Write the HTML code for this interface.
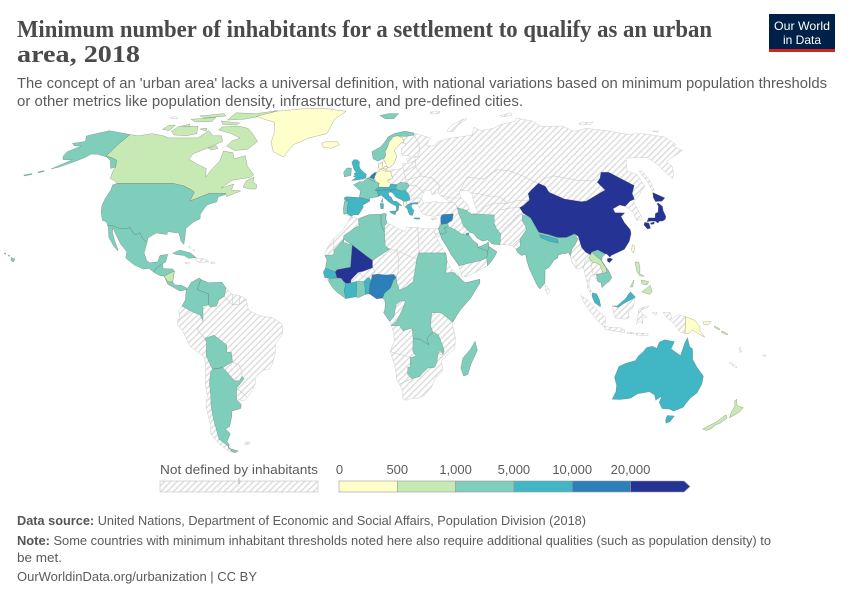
<!DOCTYPE html>
<html>
<head>
<meta charset="utf-8">
<style>
html,body{margin:0;padding:0;background:#fff;}
svg{display:block;}
.h{fill:url(#hp);stroke:#cdcdcd;stroke-width:.5;stroke-linejoin:round}
.y,.g,.t,.c,.b,.n{stroke:#5a5a5a;stroke-opacity:.55;stroke-width:.45;stroke-linejoin:round}
.y{fill:#ffffcc}.g{fill:#c7e9b4}.t{fill:#7fcdbb}.c{fill:#41b6c4}.b{fill:#2c7fb8}.n{fill:#253494}
.w{fill:#fff;stroke:#cdcdcd;stroke-width:.5}
.bl{fill:none;stroke:#cbcbcb;stroke-width:.6;stroke-linejoin:round}
.sans{font-family:"Liberation Sans",Arial,sans-serif}
</style>
</head>
<body>
<svg width="850" height="600" viewBox="0 0 850 600" xmlns="http://www.w3.org/2000/svg">
<defs>
<pattern id="hp" patternUnits="userSpaceOnUse" width="4.5" height="4.5" patternTransform="rotate(45)">
<rect width="4.5" height="4.5" fill="#fff"/>
<line x1="2.25" y1="0" x2="2.25" y2="4.5" stroke="#d9d9d9" stroke-width="1.3"/>
</pattern>
</defs>
<rect width="850" height="600" fill="#fff"/>

<!-- Title -->
<text x="17" y="37" font-family="'Liberation Serif',serif" font-weight="bold" font-size="24" fill="#4a4a4a" textLength="695" lengthAdjust="spacingAndGlyphs">Minimum number of inhabitants for a settlement to qualify as an urban</text>
<text x="17" y="62" font-family="'Liberation Serif',serif" font-weight="bold" font-size="24" fill="#4a4a4a" textLength="123" lengthAdjust="spacingAndGlyphs">area, 2018</text>
<text class="sans" x="17" y="88" font-size="14.5" fill="#5b5b5b" textLength="810" lengthAdjust="spacingAndGlyphs">The concept of an 'urban area' lacks a universal definition, with national variations based on minimum population thresholds</text>
<text class="sans" x="17" y="106" font-size="14.5" fill="#5b5b5b" textLength="506" lengthAdjust="spacingAndGlyphs">or other metrics like population density, infrastructure, and pre-defined cities.</text>

<!-- Logo -->
<rect x="769" y="14" width="66" height="35" fill="#002147"/>
<rect x="769" y="49" width="66" height="3" fill="#ce261e"/>
<text class="sans" x="802" y="30" font-size="12" fill="#fff" text-anchor="middle" textLength="56" lengthAdjust="spacingAndGlyphs">Our World</text>
<text class="sans" x="802" y="44" font-size="12" fill="#fff" text-anchor="middle" textLength="38" lengthAdjust="spacingAndGlyphs">in Data</text>

<!-- ===== MAP ===== -->
<!-- Hatched bases -->
<path class="h" d="M351.3,216.3 L343.7,214.1 L343.4,208.8 L344.6,201.1 L344,198 L346.5,196.8 L359.3,197.6 L360.6,191 L353.6,184.9 L359.8,181.6 L363.4,182 L366.6,178.4 L371.8,174.7 L376.5,172.2 L378.6,167.3 L378.4,164.1 L382.6,161.9 L382.5,164.8 L383.1,168.5 L388,170.2 L398.4,169.2 L403,167.3 L402.5,163.6 L408.1,163.6 L406.4,158.8 L417.9,156.4 L408.7,156 L402.1,155.2 L401.2,149.4 L406.3,143.6 L401.1,142.9 L394.2,150.5 L396.8,156.4 L394,163.6 L389.7,167.3 L386.7,164.8 L382.4,158.8 L377.9,161.2 L373.2,158.8 L372,151.7 L380.6,147 L385.3,141.4 L388.1,136.9 L394.3,133.6 L404.9,131.2 L413.8,133 L430.4,137.9 L426,145.9 L434.7,145.9 L438.4,141.4 L452.3,137.9 L460.1,136.9 L472.2,135.1 L473.9,127.3 L480.9,130.5 L488.2,129.4 L493.7,128.3 L499,125.2 L514.8,121.2 L516.6,118.1 L533,121.2 L540.7,126.2 L562.8,126.2 L574.3,131.5 L586.2,128.3 L605.3,130.5 L627.3,134.3 L642.8,133.6 L664.3,136.9 L676,144.7 L672.6,145.9 L682.5,150.5 L673.9,156.4 L666.5,161.2 L672,166.1 L673.7,174.7 L672.3,178.4 L656.3,163.6 L647.7,157.6 L626,158.1 L627,171 L636.8,174.7 L644.8,185.9 L636.9,198.4 L633.3,201.1 L641.3,216.5 L641.4,219 L636.6,220.5 L633.1,212.7 L627.4,207.6 L625.3,206.3 L619.7,205 L613,208.8 L615,212.7 L624.7,213 L621,216.5 L624.4,222.6 L630.2,229.6 L631,233.5 L629.3,241.3 L624.4,249.3 L618.2,252.2 L611.1,255.5 L610,257.2 L606.6,253.9 L602.3,256.8 L601.4,260.7 L603.6,264.6 L608.4,270.3 L611.8,277.6 L609.1,281.5 L606.3,283.3 L602,287.7 L601.2,282.8 L597.8,281.5 L595,277.6 L593,275.1 L590.8,275.3 L588.9,282.8 L589.2,286.7 L591.6,291.9 L596.7,294.4 L599.3,299.6 L600.7,306.1 L600,306.6 L594.8,302.7 L592.4,297 L587.5,288 L587.4,284.1 L584.9,273.7 L583.5,267.2 L578,269 L576.1,268.5 L575.9,260.7 L570.4,256 L568.5,252.2 L565.9,253.5 L563,253.5 L558.5,254.8 L557.5,258.1 L554.2,259.9 L549.2,267.2 L545,269.8 L545,275.7 L544.8,283.3 L539.9,289 L536.7,284.4 L533,276.5 L529.3,268.5 L526.9,260.7 L525.8,254.2 L521.3,255.5 L517.5,252.2 L516,249.1 L512.3,245.7 L505.5,244.7 L500,244.7 L492,243.9 L487.8,239.8 L482.6,241.1 L476.9,237.9 L473.7,233.5 L469.6,232.2 L468.5,234.7 L472.7,240.1 L477.6,243.9 L477.9,247.3 L486.1,243.9 L488.3,241.6 L488.9,246.4 L496.9,251.7 L494.5,256.8 L491.4,261.2 L487.4,265.9 L480.8,269.3 L473.1,273.7 L465.5,276.8 L462.1,277.1 L459.8,269.8 L459.1,265.9 L450.9,254.2 L446.6,246.4 L441.6,238.7 L440,233.5 L438.3,228.8 L440,223.1 L440.7,218 L440.6,214.8 L436,216.1 L431.6,216.1 L428.5,215.3 L423,214.6 L420.4,210.2 L418.9,206.3 L418.1,204.8 L413.4,204 L411.2,204.8 L411.5,207.6 L413.5,211.7 L412.6,215.3 L411.4,215.3 L409.6,214.6 L408.3,212 L407.5,208.8 L405.7,207.6 L403.9,205.5 L403.7,201.6 L402,200 L396.1,197.3 L392.7,193 L391.1,192 L388.2,192.5 L388.9,196 L391,197 L393.3,201.1 L396.8,201.4 L401.9,205.8 L398.9,205 L398.3,210.4 L396.5,211.5 L396.3,206.3 L392.8,204.3 L390.4,203 L388.5,201.6 L384.8,198.4 L381.3,195.1 L378.5,196.6 L372.3,197.6 L369.4,198.4 L369.7,201.1 L365.1,203.7 L362.4,205.6 L363.4,206.9 L361.5,210 L358.5,214.8 L353.6,214.8 Z"/>
<path class="h" d="M350.5,217.1 L348.3,221.8 L341.9,230.9 L333.8,238.2 L327.3,247.8 L324.8,255.5 L327,259.4 L325.6,268.2 L323.3,272 L324.8,277.6 L328.8,281.5 L332.9,287.9 L336.7,291.9 L345.8,298.6 L353.8,296.5 L358.4,297.6 L365.3,294.4 L368.7,293.6 L370.8,293.4 L376.7,298.8 L382.5,298 L384.8,300.1 L385.4,304 L384.8,310 L383.6,312.6 L389.8,321.5 L391.2,325.6 L393.9,333.3 L394.3,341.1 L390.2,351.5 L395.5,368.3 L396.7,380 L399.4,384.1 L402.8,391.7 L402.8,398.7 L406.3,400.3 L411.8,398.2 L418.5,398.2 L423.9,395.6 L431.2,387.5 L435.9,377.4 L442.2,372.2 L442.2,365.8 L441.3,361.4 L446.6,355.4 L454.8,348.9 L455.3,337.2 L453,328.1 L452.7,322.2 L453.9,320.4 L456.9,315.2 L460.3,310 L470.5,298.3 L476,289.3 L479.9,283 L479.7,279.3 L465.5,282.8 L461.6,279.8 L457.2,273.6 L451.3,269 L447,261.2 L446,254.2 L442.2,247.8 L437.1,238.7 L434.4,232.2 L438.6,237.4 L439.9,233.5 L438.3,228.8 L434,228.8 L428.5,229 L417.7,227.8 L406.7,227 L404.7,231.4 L397,228.3 L391.4,224.7 L386.8,223.1 L385.6,218 L386.5,214.1 L384,213.4 L380.1,214.4 L369.4,214.6 L360.8,217.8 L358.3,219 L351.6,216.8 Z"/>
<path class="h" d="M186.9,289.5 L191,282.8 L199.2,277.9 L200.8,279.4 L208.1,282.8 L217.2,282.5 L221.8,282.2 L226.1,288 L232.5,294.4 L239.4,295.5 L244,297.8 L246.3,299.6 L248.5,310 L253.1,312.6 L262.3,316.5 L271.4,317.3 L281.8,323.5 L283,333.4 L275.5,343.7 L275,355.4 L272.1,364.5 L269.1,369.6 L263.5,370.1 L255.2,377.4 L255.3,384.1 L251.5,391.7 L247.4,397.4 L244.2,400.6 L240.2,400.3 L236.5,398.2 L236.7,399.8 L241.3,404.6 L240.5,408.5 L231.5,411.1 L231.8,416.3 L230.9,420.1 L229.6,426.5 L225.4,429 L230.3,433.6 L226.9,441.6 L229.3,444.8 L228,448 L238,451 L235,452.7 L229.2,451.5 L219.1,444 L211,434.1 L210.3,424 L208.7,417.6 L205.8,405.9 L207.3,395.6 L205.2,382.6 L205.7,371 L204.7,357.5 L202,355.4 L190,346.3 L182.6,330.7 L177.1,324.3 L177.8,320.4 L179.8,316.5 L178.7,311.3 L182,306.1 L185.5,299.6 L186,291.9 Z"/>
<!-- hatched islands -->
<path class="h" d="M447,131 L453,132 L458,125 L467,119 L463,119 L452,125 Z"/>
<path class="h" d="M430,112 L440,111.5 L439,113.5 L431,114 Z"/>
<path class="h" d="M500,115.5 L511,112.8 L512,115 L503,117 Z"/>
<path class="h" d="M579,123 L593,122 L590,124.5 L580,125 Z"/>
<path class="h" d="M652,131 L659,131 L657,132.5 Z"/>
<path class="h" d="M652.5,191 L647,181 L639,171 L642,171 L650,181 L654,190 Z"/>
<path class="h" d="M545,284.6 L550.3,290.5 L547.4,294.4 L545.6,290.5 Z"/>
<path class="h" d="M431,218.5 L437,217.5 L436,219.5 L432,220 Z"/>
<path class="h" d="M580.9,295.5 L587.1,299.6 L600,312.6 L605.7,317.8 L605.1,325.1 L602,325.3 L594,316.5 L584,303 Z"/>
<path class="h" d="M603.7,326.1 L611,327.4 L620.2,327.9 L624.8,330 L624.6,332.6 L614.5,331 L605.4,329.5 Z"/>
<path class="h" d="M627,332 L634,332.5 L634,334 L627,333.5 Z M636,333 L648,333.5 L648,335.5 L636,335 Z"/>
<path class="h" d="M612.4,305.3 L617,306.1 L626,298.3 L628.3,294.4 L630.6,291.9 L635.3,297 L633,307.4 L628.4,312.6 L629.1,317.8 L625,319.1 L615.4,317.8 L613.7,312.6 Z"/>
<path class="h" d="M636.6,324.3 L638,315 L639,308.7 L649,306 L647,308 L641,310 L642,314 L647,317 L642,318 L643,324 L640,321 Z"/>
<path class="h" d="M652,313 L657,312 L656,315 Z M663,312.6 L669.9,312.1 L672,319.1 L678.8,314.7 L685.8,316.8 L685,333.6 L679.5,331.5 L675,325 L672,321.7 L667,318 Z"/>
<path class="h" d="M740,347 L741.5,352 L740.5,352.5 L739,348 Z M730,362 L737,367 L736,368 L729,363 Z M762,355 L766,355 L765,357 Z"/>
<path class="h" d="M195.6,258.6 L205.2,258.9 L208.8,261.7 L200.6,262.8 L196,261 Z M211,262 L215,262 L215,263.5 L211,263.5 Z M185.5,262.5 L189.5,262.5 L189,264 L185.5,263.8 Z M188,246 L191,247.5 L190,248.5 Z M193,249 L195,250.5 L194,251 Z"/>
<path class="h" d="M245,442 L250,442 L249.5,444.5 L245,444.5 Z"/>
<path class="h" d="M170,118 L176,116 L178,119 Z"/>

<!-- seas -->
<path class="w" d="M423.8,203.2 L421.1,198.1 L423.5,193 L425.6,189.8 L431.3,191 L431.9,194.8 L437.8,192.7 L440.7,195.2 L450,202.2 L439,203 L436,201.1 L430,202.5 Z"/>
<path class="w" d="M459.9,191 L467.3,190 L471.8,193.5 L473.9,202.4 L478.3,212.7 L471,214.1 L467.9,205.3 L461.6,198.4 L459.4,193.5 Z"/>

<!-- borders between hatched countries -->
<path class="bl" d="M459.9,191 L467.1,177.1 L483.6,179 L497.4,169.7 L509.5,171 L523,176 L536.7,183 L545.4,186.4 M538.4,183.2 L546,178 L554.1,175.9 L565,178 L577.3,180.4 L593.5,180.9 L599.9,178.4"/>
<path class="bl" d="M471.8,193.5 L478,193.5 L488.9,196 L500,197 L507.8,203.4 L517,200.5 L529.5,200"/>
<path class="bl" d="M478.5,214.1 L485,207 L494,203 L507.8,203.4 M494.2,215 L500,210 L510,208 L519.6,207.6 M500.7,233.8 L505,228 L512,222 L518,215 L522.5,214.6 M512.3,245.7 L516,242 L520.1,238.7"/>
<path class="bl" d="M414,135.1 L418,142 L420,150 L417.9,156.4 M408.1,163.6 L416,160 L415,166 M403,167.3 L404,172 L406,180 L404,183 M404,172 L415,166 L422,176 L432,178 L440,186 L437.8,192.7 M406,180 L422,176 M404,183 L409.1,185.9 L415,185 L421.1,190 L423.5,193 M409.9,200.3 L414,198 L421.1,198.1 M418,203.8 L420,202 M440.7,195.2 L450,198 L459.4,198 M450,202.2 L455,203 L457.2,207.6"/>
<path class="bl" d="M419.1,252.9 L417.7,227.8 M389.8,249 L396.5,250.4 L416.9,259.4 L419.1,252.9 M396.5,250.4 L399,260 L398,272 L396.2,277.6 M372.5,267.7 L375,272 L372.1,275 M358.4,272.3 L364,277 L369,277.5 M343.7,239.2 L343.8,235.6 M333.9,250.4 L333.8,238.2"/>
<path class="bl" d="M390.2,351.5 L410.4,357.5 M399.4,384.1 L411.8,378.7 M442.9,354.4 L437.8,354.1"/>
<path class="bl" d="M203,320.9 L197.3,329.4 L204.7,338.5 M177.8,320.4 L185,316 L191.3,311.3 M224.2,296.5 L232.5,304.8 L239.3,304.3 L246.3,299.6 M232.5,304.8 L232.5,294.4 M239.3,304.3 L239.4,295.5 M232.5,361.9 L239,365 L242,372.2 L242,376.4 M236.5,388.3 L244.2,394 L247.4,397.4"/>
<path class="bl" d="M588.9,257.6 L585,262 L583.5,267.2 M590.4,259.4 L592,268 L593,275.1 M596.1,274.2 L593,275.1 M570.4,256 L572,262 L576.1,268.5"/>

<!-- North America -->
<path class="g" d="M130,134.5 L138.2,135.8 L152.3,133.6 L163.2,135.8 L169.3,137.9 L181.1,137.9 L198,137.9 L208.7,130.5 L213.1,135.8 L221.5,135.8 L222.5,141.4 L210,147 L192.8,154 L189,159.4 L197.3,164.1 L206.2,168.5 L205.8,177.1 L211.3,169.7 L219.6,161.2 L223.5,151 L233.1,152.8 L233.8,158.9 L245.4,155.7 L247.3,166.1 L253.8,174.6 L251,177.1 L232,180.4 L221,188 L233.8,184 L231.5,190 L240.7,191 L226.6,196.6 L225.5,193.5 L217.3,193.5 L209.1,193.5 L199.5,197.3 L189.8,201.1 L194.3,192.2 L191.3,189.8 L183.8,185.9 L173,183.4 L117,183.4 L114.6,180.9 L110.3,178.4 L113.4,169.7 L115.5,167.3 L116.6,160.2 L111.3,157.6 L106,156 L117.7,144.7 Z"/>
<path class="g" d="M243,187 L246,181 L254,177 L253,182 L257,185 L256,189 L249,189 Z"/>
<path class="g" d="M226.6,145.9 L234.5,150.5 L247.6,149.4 L257.6,141.4 L251.8,132.6 L248,128.3 L238,126 L222,127 L218.5,130 L231.3,133.6 L240.1,138 L232,141 Z"/>
<path class="g" d="M171.3,131.5 L179,126.2 L198,126.2 L196.8,133.6 L186.5,135.8 L174,135 Z"/>
<path class="g" d="M162.4,129.4 L169.2,125.2 L175.4,125.2 L169.2,130.5 Z"/>
<path class="g" d="M236,112.8 L256.3,113.6 L277.6,110.5 L262,116 L243.5,119.3 L227.4,120.1 Z"/>
<path class="g" d="M221,121 L239.6,123 L236,125 L223,124.5 Z"/>
<path class="g" d="M191,119.3 L216,117.4 L212,121.5 L195,122 Z M200,116 L224,113.5 L226,116 L205,118 Z"/>
<path class="g" d="M208,148 L216,145.5 L218,148.5 L211,150 Z"/>
<path class="g" d="M182,126 L190,124 L189,127 Z M200,129 L207,128 L206,131 Z"/>
<path class="y" d="M283.3,156.9 L273.3,151.7 L271,142.5 L274.1,133.6 L274.3,122.1 L264.4,119.3 L256.5,116.4 L276.9,111.2 L309.2,108.2 L329.1,108.9 L339.6,110.5 L346.3,111.2 L334.6,119.3 L329.3,129.4 L326.8,133.6 L309.1,137.9 L293.4,144.7 L287.7,151.7 Z"/>
<path class="y" d="M321.5,143.6 L325,141.8 L337.3,141.8 L339.5,144.7 L331.2,148.2 L323.4,147.5 Z"/>
<path class="t" d="M130,134.5 L109.5,130.7 L96.3,133.6 L86.3,136 L85.5,141.4 L72.5,143.4 L74.4,145.9 L81.4,146 L67.2,151.7 L63,156.4 L63,159.7 L72.4,159.7 L51,169 L58.4,167.3 L72.5,162.4 L84.7,157.6 L91.3,154 L98,154.4 L106.4,156.9 L110.4,160.6 L110.6,168.5 L115.5,167.3 L116.6,160.2 L111.3,157.6 L106,156 L117.7,144.7 Z"/>
<path class="t" d="M38,172 L44,170.5 L44,171.5 L38,173 Z M24,175 L32,173.5 L32,174.5 L24,176 Z M11,257.5 L15,259 L13.5,262 L11,260.5 Z M8,255 L10,255.5 L9,256.5 Z M4,253 L6,253 L5.5,254.5 Z"/>
<path class="t" d="M117,183.4 L173,183.4 L183.8,185.9 L191.3,189.8 L194.3,192.2 L189.8,201.1 L199.5,197.3 L209.1,193.5 L217.3,193.5 L225.5,193.5 L225.1,194.8 L218.3,196.8 L216.7,201.9 L207.4,204.8 L204,208.8 L200.4,214.1 L200.1,218.7 L194,221.8 L185.9,228.3 L185,237.4 L183.8,244.4 L181,241.3 L180.2,237.4 L178.4,232.2 L176.2,233 L167.6,231.4 L167.1,234.5 L156.2,233 L148.1,237.9 L147,242.6 L142.8,238.7 L139.8,232.7 L136,234.7 L133.1,233.2 L130.1,227.5 L126,228.8 L119.9,228.8 L112.9,225.7 L107.8,225.7 L106.2,221.8 L102.3,220.2 L101.2,211.9 L101.9,205.3 L105.3,198.4 L110.7,190.2 L112.6,184.9 Z"/>
<path class="t" d="M107.8,225.7 L112.9,225.7 L119.9,228.8 L126,228.8 L130.1,227.5 L133.1,233.2 L136,234.7 L139.8,232.7 L142.8,238.7 L147,242.6 L144.1,252.9 L146.7,260.7 L149.8,262.8 L157.7,261.8 L160,255.5 L167.7,254.2 L165.7,262 L162.5,263.8 L156,268.5 L153.9,272.4 L149,268.5 L143.3,269 L134.5,265.1 L125.7,258.1 L126.8,251.7 L120.5,243.9 L115.4,233.5 L113,227.7 L112.4,232.2 L115.3,242.6 L118.2,250.4 L117.7,250.7 L113.4,245.7 L108.8,237.4 L108.3,228.3 Z"/>
<path class="t" d="M162.5,263.8 L163.2,268.5 L172.6,269 L174.4,271.1 L173.1,278.9 L172.7,282 L174.9,284.9 L181.7,285.4 L186.5,287.7 L186.9,289.5 L180.1,291.1 L176.7,289.3 L167.7,284.1 L164.2,276.3 L159.6,275.5 L153.9,272.4 L156,268.5 Z"/>
<path class="g" d="M164.2,276.3 L169,273.5 L174.4,271.1 L173.1,278.9 L172.7,282 L167.7,281.6 Z"/>
<path class="t" d="M172.7,253.2 L179.6,250.1 L190.4,252.9 L196.2,257.6 L188.7,258.3 L184,255.5 L176,254.5 Z"/>

<!-- South America -->
<path class="t" d="M186.9,289.5 L191,282.8 L199.2,277.9 L200.8,279.4 L197.4,289.3 L203.1,291.9 L208.7,293.9 L208.4,304.8 L203,306 L203,320.9 L200,315 L191.3,311.3 L182,306.1 L185.5,299.6 L186,291.9 Z"/>
<path class="t" d="M200.8,279.4 L208.1,282.8 L217.2,282.5 L221.8,282.2 L226.1,288 L224.2,296.5 L218.9,299.6 L216.5,306.1 L210,306.9 L208.4,304.8 L208.7,293.9 L203.1,291.9 L197.4,289.3 Z"/>
<path class="t" d="M204.7,338.5 L214,335.1 L226.7,345 L226.8,352.2 L231.3,352.2 L232.5,361.9 L222.8,367.6 L212.6,369.2 L208.4,360.6 L206.1,355.4 L206.5,342.4 Z"/>
<path class="t" d="M212.6,369.2 L222.8,367.6 L226,371 L234.6,380.8 L239.5,380.8 L242,376.4 L244.2,378.8 L236.5,388.3 L236.5,398.2 L236.7,399.8 L241.3,404.6 L240.5,408.5 L231.5,411.1 L231.8,416.3 L230.9,420.1 L229.6,426.5 L225.4,429 L230.3,433.6 L226.9,441.6 L229.3,444.8 L228,448 L238,451 L235,452.7 L231,451 L229,447 L219,439.1 L216.2,429 L213.4,418.9 L211.1,405.9 L210.7,395.6 L209.4,382.6 L210.6,372.2 Z"/>

<!-- Europe -->
<path class="t" d="M380,115.5 L388.6,113.6 L398.6,113.6 L394,118.8 L385.2,118.8 Z"/>
<path class="t" d="M373.2,158.8 L372,151.7 L380.6,147 L385.3,141.4 L388.1,136.9 L394.3,133.6 L404.9,131.2 L413.8,133 L414,135.1 L404.8,136.5 L397.1,135.8 L393.1,136.9 L388.8,142.5 L387.6,147 L385.1,151.7 L385.8,155.2 L384.3,158.3 L382.4,158.8 L377.9,161.2 Z"/>
<path class="y" d="M383.5,158.8 L387.4,167.5 L389.7,167.3 L394,163.6 L396.8,156.4 L394.2,150.5 L401.1,142.9 L404.1,142.5 L402.6,137.9 L397.1,135.8 L393.1,136.9 L388.8,142.5 L387.6,147 L385.1,151.7 L385.8,155.2 L384.3,158.3 Z"/>
<path class="y" d="M380.2,169 L378.5,167.3 L378.4,164.1 L382.6,161.9 L382.5,164.8 L383.1,168.5 Z M384,166.5 L387.5,166.5 L387,169 L384,169 Z"/>
<path class="c" d="M351.7,180.6 L356.1,180.1 L364,178.9 L365.8,177.9 L366.3,174.2 L363.6,172.2 L360.1,168.5 L359.2,166.1 L359.6,162.1 L357.4,159.7 L353.7,159.7 L351.8,162.4 L353.5,167.8 L353.8,169 L356.2,172.7 L353.9,173.5 L355.2,175.4 L353.2,176.4 L356.1,177.6 Z"/>
<path class="t" d="M351.5,168 L350.9,175.4 L344.4,177 L343.6,172.2 L346.8,168 Z"/>
<path class="t" d="M367.9,178.1 L374.6,181.7 L379.4,183.4 L378.3,187.1 L375.2,190.2 L377.3,191.1 L378.5,196 L378.5,196.6 L372.3,197.6 L369.4,198.4 L369.7,200 L359.3,197.6 L360.6,191 L353.6,184.9 L359.8,181.6 L363.4,182 L366.6,178.4 Z"/>
<path class="t" d="M367.9,178.1 L369.7,177.4 L371.5,178 L373.9,178.9 L375.1,180.6 L374.6,181.7 Z"/>
<path class="b" d="M369.7,177.4 L371.8,174.7 L375,172.4 L376.6,172.7 L374.8,176.4 L373.9,178.9 L371.5,178 Z"/>
<path class="y" d="M376.6,172.7 L379.4,171 L380.2,169 L384.2,171 L390.4,171.3 L391.5,174.7 L392.6,178.4 L387.2,180.3 L390.6,184 L389.3,187.2 L383.2,187.2 L378.3,187.1 L379.4,183.4 L375.1,180.6 L374.8,176.4 Z"/>
<path class="c" d="M375.2,190.2 L378.3,187.1 L383.2,187.2 L389.3,187.2 L390.6,184 L396.9,184.5 L396.3,187.2 L395.5,189 L390.8,189.8 L388.3,190 L384.3,189.8 L377.3,191.1 Z"/>
<path class="t" d="M396.9,184.5 L400.9,182.2 L408,183.2 L409.1,185.9 L405.8,190.5 L401.3,191.1 L395.5,189 L396.3,187.2 Z"/>
<path class="c" d="M378.5,196 L377.3,191.1 L384.3,189.8 L388.3,190 L390.8,189.8 L391.1,192 L388.2,192.5 L388.9,196 L391,197 L393.3,201.1 L396.8,201.4 L401.9,205.8 L398.9,205 L398.3,210.4 L396.5,211.5 L396.3,206.3 L392.8,204.3 L390.4,203 L388.5,201.6 L384.8,198.4 L381.3,195.1 Z"/>
<path class="c" d="M389.7,211.3 L396.4,210.7 L395.3,214.8 L391,213 Z M380.2,203.2 L383.6,203.7 L383.3,208.8 L380.8,208.8 Z M414,217.8 L420,217.9 L419.5,219.2 L414.5,219 Z"/>
<path class="t" d="M382.5,198.4 L382.9,202.6 L381,201.9 Z"/>
<path class="c" d="M390.8,189.8 L395.5,189 L401.3,191.1 L405.8,190.5 L409.3,195.2 L409.9,200.3 L405.8,201.1 L403.5,201.4 L402,200 L396.1,197.3 L392.7,193 L391.1,192 Z"/>
<path class="y" d="M403.5,201.4 L405.8,201.1 L407.2,205 L405.3,207.1 L403.9,205.5 Z"/>
<path class="c" d="M407.2,205 L410.1,203.3 L417.4,202.2 L418,203.8 L413.4,204 L411.2,204.8 L411.5,207.6 L414.3,210.9 L413.5,211.7 L412.6,215.3 L411.4,215.3 L409.6,214.6 L408.3,212 L407.5,208.8 L405.3,207.1 Z"/>
<path class="c" d="M359.3,197.6 L369.7,200 L369.7,201.1 L365.1,203.7 L362.4,205.6 L363.4,206.9 L361.5,210 L358.5,214.8 L353.6,214.8 L351.3,216.3 L347.2,213.6 L347.2,207.6 L348.6,201.4 L345.9,200.9 L344,198 L346.5,196.8 Z"/>
<path class="t" d="M347.2,213.6 L343.7,214.1 L343.4,208.8 L344.6,201.1 L345.9,200.9 L348.6,201.4 L347.2,207.6 Z"/>

<!-- Middle East & Asia -->
<path class="t" d="M440,233.5 L441.6,238.7 L446.6,246.4 L450.9,254.2 L459.1,265.9 L462.4,264.9 L470,263 L480.2,260.7 L486.7,258.1 L487.8,251.2 L477.9,247.3 L477.6,243.9 L472.7,240.1 L468.5,234.7 L466,234.7 L461.7,234.1 L455.1,229.6 L448.1,226.5 L443.9,228.3 L446.5,232.2 L443,234.1 Z"/>
<path class="t" d="M477.9,247.3 L486.1,243.9 L488.3,241.6 L488.9,246.4 L487.8,251.2 Z"/>
<path class="t" d="M488.9,246.4 L496.9,251.7 L494.5,256.8 L491.4,261.2 L487.4,265.9 L486.7,258.1 L487.8,251.2 Z"/>
<path class="t" d="M457.2,207.6 L466.8,210.4 L471,214.1 L478.5,214.1 L494.2,215 L494.2,223.1 L496.3,228.3 L500.7,233.8 L500,244.7 L492,243.9 L487.8,239.8 L482.6,241.1 L476.9,237.9 L473.7,233.5 L469.6,232.2 L463.2,225.7 L461.2,219.2 L458.7,213.6 Z"/>
<path class="t" d="M441,224.4 L447.2,223.4 L448.5,225 L448.1,226.5 L443.9,228.3 L446.5,232.2 L443,234.1 L440,233.5 L438.3,228.8 Z"/>
<path class="b" d="M440.7,218 L441.9,214.6 L453.4,213.9 L452.1,220.5 L447.2,223.4 L441,224.4 Z"/>
<path class="c" d="M465.8,233.2 L468.8,232.8 L468.6,235 L466.3,235.2 Z"/>
<path class="t" d="M516,249.1 L517.5,252.2 L521.3,255.5 L525.8,254.2 L526.9,260.7 L529.3,268.5 L533,276.5 L536.7,284.4 L539.9,289 L544.8,283.3 L545,275.7 L545,269.8 L549.2,267.2 L554.2,259.9 L557.5,258.1 L558.5,254.8 L563,253.5 L565.9,253.5 L568.5,252.2 L570.4,256 L572,249 L575,245 L577.7,238.7 L574.5,233.8 L566.3,237.4 L557.5,237.4 L548.4,234.5 L538.8,232.2 L535.1,225.7 L530.7,217.9 L522.5,214.6 L522,220.5 L525.3,225.7 L526.3,229.6 L520.1,238.7 L520.1,246.6 Z"/>
<path class="c" d="M539.5,234.5 L548.4,236.5 L557.5,239.3 L558.2,243 L549,241.2 L540.6,237.5 Z"/>
<path class="n" d="M633.6,185.2 L608.7,172.2 L601,172.2 L599.9,178.4 L597.2,182.2 L605.1,190 L593.5,196.8 L586.3,201.1 L581.3,201.6 L564.5,199 L549.1,192.2 L545.4,186.4 L538.4,183.2 L531.2,190 L528.2,193.5 L529.5,200 L523,205.8 L519.6,207.6 L523.2,213.3 L530.7,217.9 L535.1,225.7 L538.8,232.2 L548.4,234.5 L557.5,237.4 L566.3,237.4 L574.5,233.8 L578.2,236.4 L581.7,247.8 L585.9,252.4 L590.8,255 L591.8,252 L597.8,249.9 L605.1,253.9 L606.6,253.9 L610,257.2 L611.1,255.5 L618.2,252.2 L624.4,249.3 L629.3,241.3 L631,233.5 L630.2,229.6 L624.4,222.6 L621,216.5 L624.7,213 L615,212.7 L613,208.8 L619.7,205 L625.3,206.3 L630.1,201.1 L634.4,199.2 L632.2,193.5 L634.2,185.2 Z"/>
<path class="n" d="M607.4,258.5 L610.4,258.1 L612.6,259.2 L609.4,262.8 L607.4,261.2 Z"/>
<path class="y" d="M632.3,244.7 L635,246.5 L633.7,252.9 L631.6,250.4 Z"/>
<path class="n" d="M652.7,192.5 L664.8,197.9 L662.1,201.1 L655.5,201.6 L653.4,197.9 Z"/>
<path class="n" d="M658.2,203 L662.4,206.3 L663.2,210.7 L665.9,216.5 L665.3,219.2 L663.1,220.9 L659.2,221.2 L658,223.1 L655.1,221 L649.7,221.2 L646.9,221.8 L648.5,217.9 L655,217.9 L655.3,213.6 L658.1,212 L658.4,206.3 L656.9,203.8 Z"/>
<path class="n" d="M644.8,222.3 L648.9,223.1 L650.5,228.3 L647.4,229 L643.9,224.9 Z M650.4,223.1 L654.5,221.8 L654,224 L651,224.5 Z"/>
<path class="g" d="M591.8,252 L596,256 L600,259 L604,264 L606.5,268.5 L606.8,272.4 L603.2,273.4 L599.7,264.6 L595.4,262.8 L592,262 L590.4,259.4 L588.9,257.6 Z"/>
<path class="t" d="M591.8,252 L597.8,249.9 L605.1,253.9 L602.3,256.8 L601.4,260.7 L603.6,264.6 L608.4,270.3 L611.8,277.6 L609.1,281.5 L606.3,283.3 L602,287.7 L601.2,282.8 L597.8,281.5 L596.1,274.2 L603.2,273.4 L606.8,272.4 L606.5,268.5 L604,264 L600,259 L596,256 Z"/>
<path class="c" d="M592.2,293.1 L596.6,293.9 L599.3,299.6 L600.7,306.1 L600,306.6 L594.8,302.7 L592.4,297 Z"/>
<path class="c" d="M613.7,306.1 L617,306.1 L626,298.3 L628.3,294.4 L630.6,291.9 L635.3,297 L632,299.2 L623.8,303.5 L618.2,307.4 Z"/>
<path class="g" d="M635,262 L638.7,262 L640,268 L639.8,273.7 L644.5,276.3 L640,276 L637,272 L636,267 Z M641,280 L648.8,281.5 L647,285 L642,284 Z M645.2,289.3 L650.2,285.4 L652.2,291.9 L649.9,294.4 L641.8,291.9 Z M630,287 L634,280 L632.5,287 Z"/>
<path class="y" d="M685.8,316.8 L694.9,320.4 L700,326.8 L700,330.7 L704.7,337.2 L697.5,333.3 L692,330 L689.4,333.3 L685,333.6 Z M703,322 L710.7,321.7 L708,325 L704,324.5 Z"/>
<path class="g" d="M715,326 L720,329 L719,330 L714,327 Z M722,331 L728,334 L727,335 L721,332 Z"/>

<!-- Africa -->
<path class="t" d="M358.3,219 L359.2,225.7 L355.1,227.8 L343.8,235.6 L343.7,239.2 L352.3,245.2 L365.7,255.5 L372.5,260.5 L389.8,249 L385.3,246.4 L384.5,232.2 L381.1,224.4 L381.1,214.4 L369.4,214.6 L360.8,217.8 Z"/>
<path class="t" d="M381.1,214.4 L384,213.4 L386.5,214.1 L385.6,218 L386.8,223.1 L384.5,226 L384.5,232.2 L381.1,224.4 Z"/>
<path class="t" d="M324.8,255.5 L333.8,254.7 L333.9,250.4 L343.7,239.2 L343.8,242.5 L352.3,245.2 L350.6,267.2 L336.9,269.8 L335.3,272 L325.6,268.2 L327,259.4 Z"/>
<path class="n" d="M335.3,272 L336.9,269.8 L350.6,267.2 L352.3,245.2 L365.7,255.5 L372.5,260.5 L372.5,267.7 L366,270.2 L363.4,271.3 L358.4,272.3 L353,277.6 L351,280 L350.6,283 L345.8,283.4 L343.6,281.5 L341.2,278.3 L336.9,277.9 Z"/>
<path class="c" d="M325.6,268.2 L335.3,272 L336.9,277.9 L330,278.4 L324.8,277.6 L323.3,272 Z"/>
<path class="t" d="M328.8,279.5 L330,278.4 L336.9,277.9 L341.2,278.3 L343.6,281.5 L345.8,283.4 L344.2,290.5 L345.8,298.6 L336.7,291.9 L332.9,287.9 L328.8,281.5 Z"/>
<path class="c" d="M345.8,298.6 L344.2,290.5 L345.8,283.4 L350.6,283 L356.6,281.4 L356.8,285.3 L356.1,296.8 Z"/>
<path class="t" d="M356.1,296.8 L356.8,285.3 L356.6,281.4 L364.1,281.4 L364.8,285 L365.7,294.2 L358.4,297.6 Z"/>
<path class="c" d="M365.7,294.2 L364.8,285 L364.1,281.4 L366,279 L369,277.5 L371.2,280.3 L369.8,285 L369.2,293.7 Z"/>
<path class="t" d="M382.5,298 L384.5,293 L390.4,288 L393.5,280 L396.2,277.6 L397,283 L399.6,290.5 L406.5,286.7 L413.1,281.5 L414.4,273.7 L417,258.1 L419.1,252.9 L445.7,252.9 L447,261.2 L445.8,272.9 L453.7,272.4 L459.6,277.6 L461.6,279.8 L465.5,282.8 L479.7,279.3 L479.9,283 L476,289.3 L470.5,298.3 L460.3,310 L456.9,315.2 L452.7,322.2 L440.9,312.6 L431.7,312.6 L430.5,325.6 L432.8,332 L426.8,338.5 L428.9,344.8 L420,339.3 L413.1,338.5 L412.1,328.1 L403.1,330.7 L399.6,325.6 L391.2,325.6 L396.1,321.7 L399.6,315.2 L403.1,307.7 L405.4,301 L400.7,301 L396.2,304.3 L393.9,316.5 L389.8,321.5 L383.6,312.6 L384.8,310 L385.4,304 L384.8,300.1 Z"/>
<path class="b" d="M369.2,293.7 L369.8,285 L371.2,280.3 L372.1,275 L378,274 L385,275 L393.9,274.4 L396.2,277.6 L393.5,280 L390.4,288 L384.5,293 L382.5,298 L376.4,298.8 Z"/>
<path class="t" d="M413.1,338.5 L420,339.3 L428.9,344.8 L426.8,338.5 L432.8,332 L438.3,334.6 L442.9,346.3 L444.2,351.5 L442.9,354.4 L440,350 L437.8,354.1 L437,361.9 L434.8,367.1 L432.6,367.9 L428.1,367.9 L422.1,373.5 L419.8,376.6 L411.8,378.7 L407.6,374.3 L407.8,367.1 L410.1,367.1 L410.4,357.5 L416,356.2 L412.8,351.5 L413,343.7 Z"/>
<path class="t" d="M475.1,341.1 L477.4,350.2 L470.8,364.5 L467.9,374.5 L463.6,376.1 L460.8,368.3 L462.9,358 L470.7,348.9 Z"/>

<!-- Oceania -->
<path class="c" d="M618.8,366.5 L625.2,363.5 L635.4,360.6 L638.9,355.4 L642.8,352.2 L646.5,347.6 L652.3,346.3 L656.8,348.4 L659.3,342.1 L664.6,339.8 L674.4,341.6 L671.1,348.9 L680.5,355.6 L685,342.4 L687.5,337.7 L689.7,346.8 L692.6,348.9 L692.6,359.3 L696.9,367.1 L703.4,376.1 L701.8,384.1 L697,393 L690.2,398.2 L685,404.6 L683.3,407.3 L673.6,411.1 L669.5,409.1 L662,408.5 L659.2,402.4 L661.8,396.1 L655.7,400.3 L654.6,395 L649.4,391.7 L637.7,393.8 L630.6,398.2 L620.4,399.5 L612.1,399.2 L615.9,391.7 L616.6,385.2 L614.5,377.4 L618.2,368.3 Z"/>
<path class="c" d="M667.2,415.5 L674.4,416 L670.1,421.6 L666,423.2 L665.6,419.7 Z"/>
<path class="g" d="M736.7,399.3 L737,405.6 L743.4,407.8 L739.8,411.6 L735.5,414.5 L729.4,417.9 L731.5,411.6 L735,406 L734.5,401 Z"/>
<path class="g" d="M726.4,415 L727.1,418.2 L720.2,423.2 L715.5,425 L711.2,428.7 L706.2,430.5 L702.5,429 L716.8,421.6 L724.4,415.7 Z"/>

<!-- ===== LEGEND ===== -->
<text class="sans" x="160" y="474" font-size="13" fill="#5b5b5b" textLength="158" lengthAdjust="spacingAndGlyphs">Not defined by inhabitants</text>
<rect x="160" y="481" width="158" height="11" fill="url(#hp)" stroke="#c8c8c8" stroke-width="0.7"/>
<line x1="239" y1="478" x2="239" y2="484" stroke="#999" stroke-width="0.7"/>
<g stroke="#9a9a9a" stroke-width="0.6">
<rect x="339" y="481" width="58.3" height="11" fill="#ffffcc"/>
<rect x="397.3" y="481" width="58.3" height="11" fill="#c7e9b4"/>
<rect x="455.6" y="481" width="58.3" height="11" fill="#7fcdbb"/>
<rect x="513.9" y="481" width="58.3" height="11" fill="#41b6c4"/>
<rect x="572.2" y="481" width="58.3" height="11" fill="#2c7fb8"/>
<path d="M630.5,481 L684,481 L690,486.5 L684,492 L630.5,492 Z" fill="#253494"/>
</g>
<g class="sans" font-size="13" fill="#5b5b5b" text-anchor="middle">
<text x="339.5" y="474">0</text>
<text x="397.3" y="474">500</text>
<text x="455.6" y="474">1,000</text>
<text x="513.9" y="474">5,000</text>
<text x="572.2" y="474">10,000</text>
<text x="630.5" y="474">20,000</text>
</g>

<!-- ===== FOOTER ===== -->
<text class="sans" x="17" y="525" font-size="12.5" fill="#5b5b5b" textLength="569" lengthAdjust="spacingAndGlyphs"><tspan font-weight="bold" fill="#555">Data source:</tspan> United Nations, Department of Economic and Social Affairs, Population Division (2018)</text>
<text class="sans" x="17" y="545" font-size="12.5" fill="#5b5b5b" textLength="754" lengthAdjust="spacingAndGlyphs"><tspan font-weight="bold" fill="#555">Note:</tspan> Some countries with minimum inhabitant thresholds noted here also require additional qualities (such as population density) to</text>
<text class="sans" x="17" y="562" font-size="12.5" fill="#5b5b5b" textLength="45" lengthAdjust="spacingAndGlyphs">be met.</text>
<text class="sans" x="17" y="581" font-size="12.5" fill="#5b5b5b" textLength="240" lengthAdjust="spacingAndGlyphs">OurWorldinData.org/urbanization | CC BY</text>
</svg>
</body>
</html>
